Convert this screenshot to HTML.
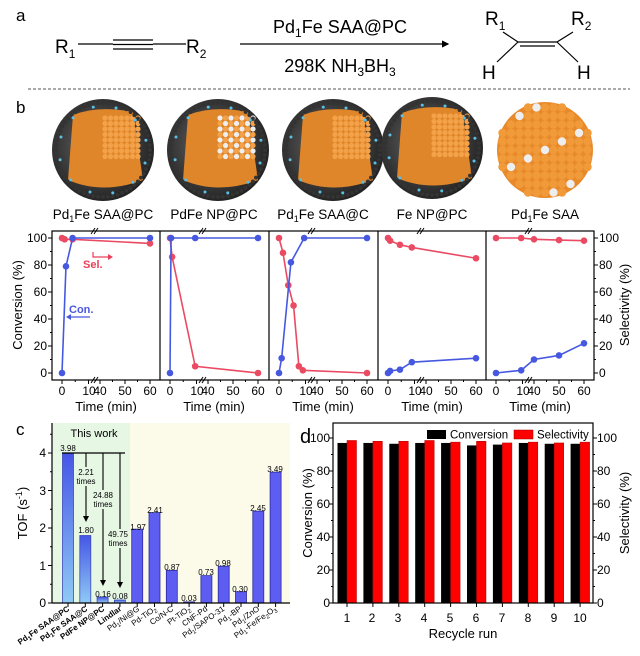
<!DOCTYPE html>
<html><head><meta charset="utf-8"><style>
html,body{margin:0;padding:0;background:#fff;}
svg{display:block;font-family:"Liberation Sans",Arial,sans-serif;}
</style></head><body>
<svg id="s" width="640" height="656" viewBox="0 0 640 656" xmlns="http://www.w3.org/2000/svg">
<defs>
<linearGradient id="gb" x1="0" y1="0" x2="0" y2="1"><stop offset="0" stop-color="#4656e6"/><stop offset="1" stop-color="#8fcaf5"/></linearGradient>
<radialGradient id="sph" cx="0.45" cy="0.45" r="0.6"><stop offset="0" stop-color="#6a6a6a"/><stop offset="1" stop-color="#1e1e1e"/></radialGradient>
<marker id="ah" markerWidth="6" markerHeight="6" refX="5" refY="3" orient="auto"><path d="M0,0 L6,3 L0,6 z" fill="#000"/></marker>
</defs>
<text x="16" y="21" font-size="17">a</text>
<text x="55" y="53" font-size="19">R<tspan font-size="12" dy="5">1</tspan></text>
<line x1="78" y1="44" x2="113" y2="44" stroke="#000" stroke-width="1.2"/>
<line x1="113" y1="40" x2="153" y2="40" stroke="#000" stroke-width="1.2"/>
<line x1="113" y1="44.5" x2="153" y2="44.5" stroke="#000" stroke-width="1.2"/>
<line x1="113" y1="49" x2="153" y2="49" stroke="#000" stroke-width="1.2"/>
<line x1="153" y1="44" x2="186" y2="44" stroke="#000" stroke-width="1.2"/>
<text x="186" y="53" font-size="19">R<tspan font-size="12" dy="5">2</tspan></text>
<line x1="240" y1="44" x2="448" y2="44" stroke="#000" stroke-width="1.2" marker-end="url(#ah)"/>
<text x="340" y="33" font-size="18" text-anchor="middle">Pd<tspan font-size="12" dy="4">1</tspan><tspan dy="-4">Fe SAA@PC</tspan></text>
<text x="340" y="72" font-size="18" text-anchor="middle">298K  NH<tspan font-size="12" dy="4">3</tspan><tspan dy="-4">BH</tspan><tspan font-size="12" dy="4">3</tspan></text>
<text x="485" y="25" font-size="19">R<tspan font-size="12" dy="5">1</tspan></text>
<text x="571" y="25" font-size="19">R<tspan font-size="12" dy="5">2</tspan></text>
<line x1="503" y1="32" x2="518" y2="42" stroke="#000" stroke-width="1.2"/>
<line x1="518" y1="42" x2="557" y2="42" stroke="#000" stroke-width="1.2"/>
<line x1="520" y1="46" x2="555" y2="46" stroke="#000" stroke-width="1.2"/>
<line x1="557" y1="42" x2="573" y2="32" stroke="#000" stroke-width="1.2"/>
<line x1="518" y1="42" x2="497" y2="62" stroke="#000" stroke-width="1.2"/>
<line x1="557" y1="42" x2="578" y2="62" stroke="#000" stroke-width="1.2"/>
<text x="482" y="79" font-size="19">H</text>
<text x="577" y="79" font-size="19">H</text>
<line x1="28" y1="89" x2="630" y2="89" stroke="#555" stroke-width="1" stroke-dasharray="3,2"/>
<text x="16" y="113" font-size="17">b</text>
<g id="spheres"></g>
<g font-size="13.5" text-anchor="middle">
<text x="103" y="219">Pd<tspan font-size="9" dy="3">1</tspan><tspan dy="-3">Fe SAA@PC</tspan></text>
<text x="214" y="219">PdFe NP@PC</text>
<text x="323" y="219">Pd<tspan font-size="9" dy="3">1</tspan><tspan dy="-3">Fe SAA@C</tspan></text>
<text x="432" y="219">Fe NP@PC</text>
<text x="545" y="219">Pd<tspan font-size="9" dy="3">1</tspan><tspan dy="-3">Fe SAA</tspan></text>
</g>
<g id="pb"></g>
<g font-size="12" text-anchor="end">
<text x="47" y="242">100</text><text x="47" y="269">80</text><text x="47" y="296">60</text><text x="47" y="323">40</text><text x="47" y="350">20</text><text x="47" y="377">0</text>
</g>
<g font-size="12" text-anchor="start">
<text x="599" y="242">100</text><text x="599" y="269">80</text><text x="599" y="296">60</text><text x="599" y="323">40</text><text x="599" y="350">20</text><text x="599" y="377">0</text>
</g>
<text transform="translate(22,305) rotate(-90)" font-size="13" text-anchor="middle">Conversion (%)</text>
<text transform="translate(629,305) rotate(-90)" font-size="13" text-anchor="middle">Selectivity (%)</text>
<g font-size="12" text-anchor="middle">
<text x="62" y="395">0</text><text x="89" y="395">10</text><text x="100" y="395">40</text><text x="125" y="395">50</text><text x="150" y="395">60</text>
<text x="170" y="395">0</text><text x="197" y="395">10</text><text x="208" y="395">40</text><text x="233" y="395">50</text><text x="258" y="395">60</text>
<text x="279" y="395">0</text><text x="306" y="395">10</text><text x="317" y="395">40</text><text x="342" y="395">50</text><text x="367" y="395">60</text>
<text x="388" y="395">0</text><text x="415" y="395">10</text><text x="426" y="395">40</text><text x="451" y="395">50</text><text x="476" y="395">60</text>
<text x="496" y="395">0</text><text x="523" y="395">10</text><text x="534" y="395">40</text><text x="559" y="395">50</text><text x="584" y="395">60</text>
</g>
<g font-size="13" text-anchor="middle">
<text x="106" y="411">Time (min)</text><text x="214" y="411">Time (min)</text><text x="323" y="411">Time (min)</text><text x="432" y="411">Time (min)</text><text x="540" y="411">Time (min)</text>
</g>
<text x="83" y="268" font-size="11" fill="#e8405a" font-weight="bold">Sel.</text>
<path d="M93,252 V257 H108" stroke="#e8405a" fill="none" stroke-width="1.2"/><path d="M108,254 L113,257 L108,260 z" fill="#e8405a"/>
<text x="69" y="313" font-size="11" fill="#4a58e0" font-weight="bold">Con.</text>
<path d="M90,317 H70" stroke="#4a58e0" stroke-width="1.2"/><path d="M71,314 L66,317 L71,320 z" fill="#4a58e0"/>

<text x="16" y="435" font-size="17">c</text>
<rect x="52" y="423" width="78" height="180" fill="#e6f7e4"/>
<rect x="130" y="423" width="160" height="180" fill="#fcfbe9"/>
<g id="pc"></g>
<text x="94" y="437" font-size="11" text-anchor="middle">This work</text>
<g font-size="12" text-anchor="end">
<text x="46" y="607">0</text><text x="46" y="570">1</text><text x="46" y="532">2</text><text x="46" y="495">3</text><text x="46" y="457">4</text>
</g>
<text transform="translate(27,513) rotate(-90)" font-size="13" text-anchor="middle">TOF (s<tspan font-size="9" dy="-5">-1</tspan><tspan dy="5">)</tspan></text>
<g fill="#e6f7e4">
<rect x="76" y="467" width="20" height="19"/><rect x="92" y="490" width="22" height="19"/><rect x="107" y="529" width="22" height="19"/>
</g>
<g font-size="8" text-anchor="middle">
<text x="68" y="451">3.98</text><text x="86" y="533">1.80</text><text x="103" y="597">0.16</text><text x="120" y="599">0.08</text>
<text x="138" y="530">1.97</text><text x="155" y="513">2.41</text><text x="172" y="570">0.87</text><text x="189" y="601">0.03</text>
<text x="206" y="575">0.73</text><text x="223" y="566">0.98</text><text x="240" y="592">0.30</text><text x="258" y="511">2.45</text><text x="275" y="472">3.49</text>
<text x="86" y="475">2.21</text><text x="86" y="484">times</text>
<text x="103" y="498">24.88</text><text x="103" y="507">times</text>
<text x="118" y="537">49.75</text><text x="118" y="546">times</text>
</g>
<g font-size="8">
<text transform="translate(70,610) rotate(-35)" text-anchor="end" font-weight="bold">Pd<tspan font-size="6" dy="2">1</tspan><tspan dy="-2">Fe SAA@PC</tspan></text>
<text transform="translate(88,610) rotate(-35)" text-anchor="end" font-weight="bold">Pd<tspan font-size="6" dy="2">1</tspan><tspan dy="-2">Fe SAA@C</tspan></text>
<text transform="translate(105,610) rotate(-35)" text-anchor="end" font-weight="bold">PdFe NP@PC</text>
<text transform="translate(122,610) rotate(-35)" text-anchor="end" font-weight="bold">Lindlar</text>
<text transform="translate(140,610) rotate(-35)" text-anchor="end">Pd<tspan font-size="6" dy="2">1</tspan><tspan dy="-2">/Ni@G</tspan></text>
<text transform="translate(157,610) rotate(-35)" text-anchor="end">Pd-TiO<tspan font-size="6" dy="2">2</tspan></text>
<text transform="translate(174,610) rotate(-35)" text-anchor="end">Co/N-C</text>
<text transform="translate(191,610) rotate(-35)" text-anchor="end">Pt-TiO<tspan font-size="6" dy="2">2</tspan></text>
<text transform="translate(208,610) rotate(-35)" text-anchor="end">CNF-Pd</text>
<text transform="translate(225,610) rotate(-35)" text-anchor="end">Pd<tspan font-size="6" dy="2">1</tspan><tspan dy="-2">/SAPO-31</tspan></text>
<text transform="translate(242,610) rotate(-35)" text-anchor="end">Pd<tspan font-size="6" dy="2">1</tspan><tspan dy="-2">-BP</tspan></text>
<text transform="translate(260,610) rotate(-35)" text-anchor="end">Pd<tspan font-size="6" dy="2">1</tspan><tspan dy="-2">/ZnO</tspan></text>
<text transform="translate(277,610) rotate(-35)" text-anchor="end">Pd<tspan font-size="6" dy="2">1</tspan><tspan dy="-2">-Fe/Fe</tspan><tspan font-size="6" dy="2">2</tspan><tspan dy="-2">O</tspan><tspan font-size="6" dy="2">3</tspan></text>
</g>

<text x="300" y="443" font-size="20">d</text>
<g id="pd"></g>
<g font-size="12" text-anchor="end">
<text x="330" y="607">0</text><text x="330" y="574">20</text><text x="330" y="541">40</text><text x="330" y="508">60</text><text x="330" y="475">80</text><text x="330" y="442">100</text>
</g>
<g font-size="12" text-anchor="start">
<text x="597" y="607">0</text><text x="597" y="574">20</text><text x="597" y="541">40</text><text x="597" y="508">60</text><text x="597" y="475">80</text><text x="597" y="442">100</text>
</g>
<text transform="translate(312,513) rotate(-90)" font-size="13" text-anchor="middle">Conversion (%)</text>
<text transform="translate(629,513) rotate(-90)" font-size="13" text-anchor="middle">Selectivity (%)</text>
<g font-size="12" text-anchor="middle">
<text x="347" y="622">1</text><text x="372" y="622">2</text><text x="398" y="622">3</text><text x="424" y="622">4</text><text x="450" y="622">5</text>
<text x="476" y="622">6</text><text x="502" y="622">7</text><text x="528" y="622">8</text><text x="554" y="622">9</text><text x="580" y="622">10</text>
</g>
<text x="463" y="638" font-size="13" text-anchor="middle">Recycle run</text>
<rect x="427" y="430" width="19" height="9" fill="#000"/>
<text x="450" y="438.5" font-size="11.5">Conversion</text>
<rect x="514" y="430" width="19" height="9" fill="#f00" stroke="#900" stroke-width="0.5"/>
<text x="537" y="438.5" font-size="11.5">Selectivity</text>
</svg>
<script>
const NS="http://www.w3.org/2000/svg";
function el(p,t,a){const e=document.createElementNS(NS,t);for(const k in a)e.setAttribute(k,a[k]);p.appendChild(e);return e;}
const sp=document.getElementById('spheres');
[[103,150,0],[218,150,1],[333,150,0],[432,148,0],[545,150,2]].forEach(([cx,cy,k])=>{
 if(k==2){el(sp,'circle',{cx:cx,cy:cy,r:48,fill:'#e8892a'});
  for(let i=-5;i<=5;i++)for(let j=-5;j<=5;j++){const x=cx+i*8.5,y=cy+j*8.5;if(Math.hypot(i,j)<5.6)el(sp,'circle',{cx:x,cy:y,r:4.2,fill:((i*7+j*3)%11==0)?'#eee':'#f09a3a'});}
  return;}
 el(sp,'circle',{cx:cx,cy:cy,r:51,fill:'url(#sph)'});
 el(sp,'path',{d:`M${cx-30},${cy-35} Q${cx-5},${cy-45} ${cx+30},${cy-38} L${cx+40},${cy+30} Q${cx},${cy+45} ${cx-35},${cy+30} z`,fill:'#e0862a'});
 for(let i=0;i<7;i++)for(let j=0;j<8;j++){const x=cx+2+i*5.5,y=cy-32+j*5.5;el(sp,'circle',{cx:x,cy:y,r:2.6,fill:(k==1&&(i+j)%2==0)?'#eee':'#f3a24a'});}
 for(let a=0;a<60;a++){const t=a/60*2*Math.PI;el(sp,'circle',{cx:cx+47*Math.cos(t),cy:cy+47*Math.sin(t),r:2,fill:'#333'});}
 for(let a=0;a<12;a++){const t=a/12*2*Math.PI+0.3;el(sp,'circle',{cx:cx+44*Math.cos(t),cy:cy+44*Math.sin(t),r:1.5,fill:'#5bc0e8'});}
});
const pb=document.getElementById('pb');
const Ls=[52,160,269,378,486];
const yb=v=>373-v*1.35;
function xb(L,t){return t<=10?L+10+t*2.65:L+48+(t-40)*2.5;}
const data=[
 {c:[[0,0],[1.5,79],[4,100],[60,100]],s:[[0,100],[1,99],[4,99],[60,96]]},
 {c:[[0,0],[0.4,100],[9.5,100],[60,100]],s:[[0,100],[0.8,86],[9.5,5],[60,0]]},
 {c:[[0,0],[1,11],[4.5,82],[9.5,100],[60,100]],s:[[0,100],[1.5,89],[3.5,65],[5.5,50],[7.5,5],[9,2],[60,0]]},
 {c:[[0,0],[0.8,1.5],[4.5,2.5],[9,8],[60,11]],s:[[0,100],[0.8,98],[4.5,95],[9,93],[60,85]]},
 {c:[[0,0],[9.5,2],[40,10],[50,13],[60,22]],s:[[0,100],[9.5,100],[40,99],[50,98.5],[60,98]]}];
Ls.forEach((L,i)=>{
 [0,10,40,50,60].forEach(t=>el(pb,'line',{x1:xb(L,t),y1:380,x2:xb(L,t),y2:384,stroke:'#000'}));
 [5,45,55].forEach(t=>el(pb,'line',{x1:xb(L,t),y1:380,x2:xb(L,t),y2:382,stroke:'#000'}));
 const bx=L+42;
 [231,380].forEach(y=>{el(pb,'line',{x1:bx-3,y1:y+3,x2:bx+1,y2:y-3,stroke:'#000'});el(pb,'line',{x1:bx,y1:y+3,x2:bx+4,y2:y-3,stroke:'#000'});});
 const d=data[i];
 [['s','#ea4a62'],['c','#4658e0']].forEach(([k,col])=>{
  const pts=d[k].map(([t,v])=>[xb(L,t),yb(v)]);
  el(pb,'polyline',{points:pts.map(p=>p.join(',')).join(' '),fill:'none',stroke:col,'stroke-width':1.6});
  pts.forEach(p=>el(pb,'circle',{cx:p[0],cy:p[1],r:3.3,fill:col}));
 });
 if(i>0)el(pb,'line',{x1:L,y1:231,x2:L,y2:380,stroke:'#000','stroke-width':1.2});
});
el(pb,'rect',{x:52,y:231,width:542,height:149,fill:'none',stroke:'#000','stroke-width':1.2});
for(let v=0;v<=100;v+=10){const y=yb(v),len=v%20==0?4:2;el(pb,'line',{x1:52-len,y1:y,x2:52,y2:y,stroke:'#000'});el(pb,'line',{x1:594,y1:y,x2:594+len,y2:y,stroke:'#000'});}
const pc=document.getElementById('pc');
const vals=[3.98,1.80,0.16,0.08,1.97,2.41,0.87,0.03,0.73,0.98,0.30,2.45,3.49];
const yc=v=>603-v*37.5;
vals.forEach((v,i)=>{const cx=68+i*17.3;el(pc,'rect',{x:cx-5.5,y:yc(v),width:11,height:v*37.5,fill:i<4?'url(#gb)':'#5d5df2',stroke:i<4?'#3c4ab8':'#2a2aa0','stroke-width':0.8});
 el(pc,'line',{x1:cx,y1:603,x2:cx,y2:607,stroke:'#000'});});
el(pc,'line',{x1:52,y1:423,x2:52,y2:603,stroke:'#000','stroke-width':1.2});
el(pc,'line',{x1:52,y1:603,x2:290,y2:603,stroke:'#000','stroke-width':1.2});
for(let v=0;v<=4.5;v+=0.5){const y=yc(v);el(pc,'line',{x1:v%1==0?48:50,y1:y,x2:52,y2:y,stroke:'#000'});}
el(pc,'line',{x1:62,y1:453,x2:125,y2:453,stroke:'#000','stroke-width':1.2});
[[86,522],[103,586],[120,588]].forEach(([x,y2])=>{
 el(pc,'line',{x1:x,y1:453,x2:x,y2:y2-4,stroke:'#000','stroke-width':1.1});
 el(pc,'path',{d:`M${x-3},${y2-6} L${x},${y2} L${x+3},${y2-6} z`,fill:'#000'});});
const pd=document.getElementById('pd');
const yd=v=>603-v*1.65;
const conv=[97,97,96.5,97,97,95.5,96,97,96.5,96.5],sel=[98.5,98,98,98.5,97.5,98,97,97.5,97,97.5];
conv.forEach((c,i)=>{const cx=347+i*25.9;
 el(pd,'rect',{x:cx-9.5,y:yd(c),width:9.5,height:c*1.65,fill:'#000'});
 el(pd,'rect',{x:cx,y:yd(sel[i]),width:9.5,height:sel[i]*1.65,fill:'#f00',stroke:'#a00','stroke-width':0.5});
 el(pd,'line',{x1:cx,y1:603,x2:cx,y2:607,stroke:'#000'});});
el(pd,'rect',{x:333,y:423,width:260,height:180,fill:'none',stroke:'#000','stroke-width':1.2});
for(let v=0;v<=100;v+=10){const y=yd(v),l=v%20==0?4:2;el(pd,'line',{x1:333-l,y1:y,x2:333,y2:y,stroke:'#000'});el(pd,'line',{x1:593,y1:y,x2:593+l,y2:y,stroke:'#000'});}
</script>
</body></html>
